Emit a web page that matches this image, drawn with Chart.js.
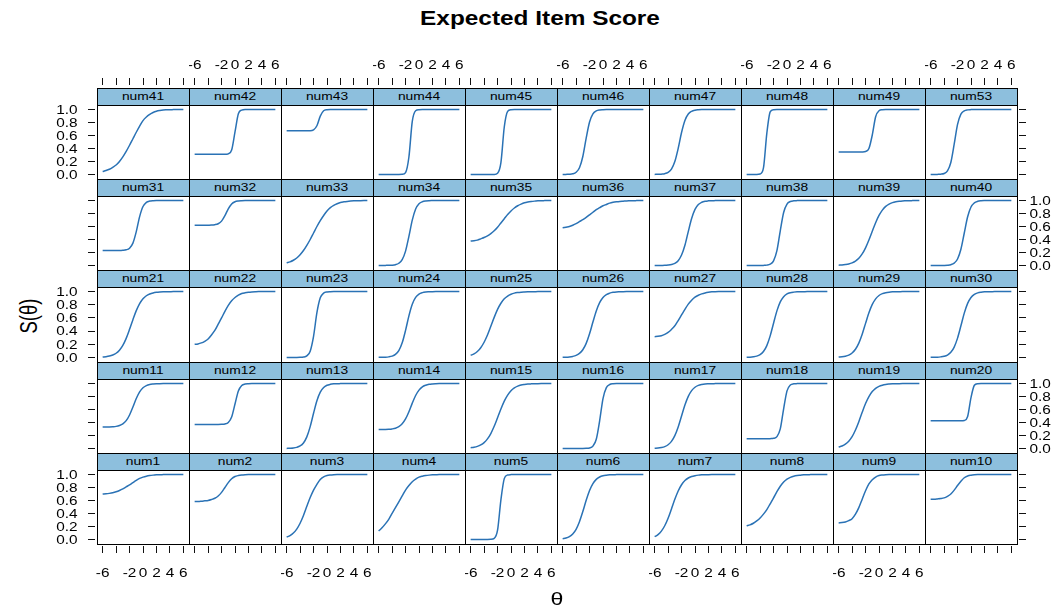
<!DOCTYPE html>
<html>
<head>
<meta charset="utf-8">
<title>Expected Item Score</title>
<script src="https://cdn.jsdelivr.net/npm/chart.js@4.4.1/dist/chart.umd.min.js"></script>
<style>
  html, body { margin: 0; padding: 0; background: #fff; }
  #page { position: relative; width: 1062px; height: 612px; overflow: hidden; background: #fff;
          font-family: "Liberation Sans", Arial, sans-serif; }
  #page canvas { position: absolute; }
  .strip { position: absolute; box-sizing: border-box; background: #8dbfdd; border: 1px solid #000; }
  .frame { position: absolute; box-sizing: border-box; border: 1px solid #000; pointer-events: none; }
  .txt { position: absolute; white-space: nowrap; line-height: 1; color: #000; }
</style>
</head>
<body>
<div id="page"></div>
<script>
// ---- ability grid and expected item scores ----
const theta = [-6,-5.5,-5,-4.5,-4,-3.5,-3,-2.5,-2,-1.5,-1,-0.5,0,0.5,1,1.5,2,2.5,3,3.5,4,4.5,5,5.5,6];

const num1  = [0.70,0.703,0.71,0.72,0.735,0.755,0.78,0.81,0.84,0.875,0.91,0.94,0.96,0.975,0.985,0.991,0.995,0.998,0.999,1,1,1,1,1,1];
const num2  = [0.585,0.586,0.59,0.595,0.60,0.615,0.635,0.67,0.725,0.80,0.875,0.935,0.97,0.985,0.993,0.997,0.999,1,1,1,1,1,1,1,1];
const num3  = [0.035,0.06,0.10,0.16,0.25,0.37,0.51,0.645,0.76,0.85,0.925,0.965,0.985,0.993,0.997,0.999,1,1,1,1,1,1,1,1,1];
const num4  = [0.13,0.18,0.24,0.31,0.40,0.49,0.58,0.67,0.76,0.83,0.89,0.93,0.96,0.975,0.985,0.991,0.995,0.997,0.999,1,1,1,1,1,1];
const num5  = [0,0,0,0,0,0.001,0.002,0.017,0.142,0.611,0.937,0.993,0.999,1,1,1,1,1,1,1,1,1,1,1,1];
const num6  = [0.011,0.022,0.044,0.085,0.157,0.273,0.43,0.603,0.754,0.861,0.926,0.962,0.981,0.99,0.995,0.998,0.999,1,1,1,1,1,1,1,1];
const num7  = [0.042,0.074,0.128,0.211,0.327,0.47,0.618,0.746,0.843,0.907,0.947,0.97,0.983,0.991,0.995,0.997,0.998,0.999,1,1,1,1,1,1,1];
const num8  = [0.21,0.225,0.25,0.285,0.33,0.39,0.46,0.55,0.64,0.735,0.82,0.885,0.93,0.957,0.975,0.985,0.99,0.995,0.998,0.999,1,1,1,1,1];
const num9  = [0.255,0.26,0.27,0.29,0.32,0.39,0.49,0.62,0.75,0.855,0.92,0.962,0.985,0.993,0.997,0.999,1,1,1,1,1,1,1,1,1];
const num10 = [0.62,0.621,0.625,0.63,0.64,0.665,0.70,0.76,0.83,0.895,0.95,0.978,0.99,0.996,0.999,1,1,1,1,1,1,1,1,1,1];

const num11 = [0.33,0.331,0.332,0.335,0.34,0.353,0.378,0.428,0.516,0.638,0.769,0.871,0.936,0.969,0.986,0.993,0.997,0.998,0.999,1,1,1,1,1,1];
const num12 = [0.37,0.37,0.37,0.37,0.37,0.37,0.37,0.37,0.372,0.377,0.40,0.485,0.685,0.885,0.97,0.993,0.998,1,1,1,1,1,1,1,1];
const num13 = [0.001,0.003,0.007,0.017,0.038,0.085,0.178,0.336,0.542,0.735,0.867,0.938,0.973,0.988,0.995,0.998,0.999,1,1,1,1,1,1,1,1];
const num14 = [0.291,0.291,0.292,0.295,0.301,0.312,0.335,0.379,0.454,0.566,0.698,0.816,0.899,0.949,0.974,0.988,0.994,0.997,0.999,1,1,1,1,1,1];
const num15 = [0.011,0.019,0.032,0.054,0.09,0.147,0.23,0.341,0.473,0.608,0.729,0.823,0.89,0.933,0.96,0.977,0.986,0.992,0.995,0.997,0.998,0.999,1,1,1];
const num16 = [0,0,0,0,0,0,0,0.002,0.008,0.036,0.142,0.426,0.769,0.937,0.985,0.997,1,1,1,1,1,1,1,1,1];
const num17 = [0.004,0.007,0.015,0.029,0.057,0.109,0.198,0.332,0.5,0.668,0.802,0.891,0.943,0.971,0.985,0.993,0.996,0.998,0.999,1,1,1,1,1,1];
const num18 = [0.15,0.15,0.15,0.15,0.15,0.15,0.15,0.151,0.156,0.182,0.301,0.611,0.887,0.977,0.996,0.999,1,1,1,1,1,1,1,1,1];
const num19 = [0.022,0.038,0.066,0.112,0.182,0.285,0.413,0.557,0.692,0.799,0.876,0.926,0.957,0.975,0.986,0.992,0.996,0.997,0.998,0.999,1,1,1,1,1];
const num20 = [0.425,0.425,0.425,0.425,0.425,0.425,0.425,0.425,0.425,0.425,0.431,0.493,0.783,0.973,0.998,1,1,1,1,1,1,1,1,1,1];

const num21 = [0.006,0.011,0.02,0.036,0.063,0.109,0.182,0.289,0.426,0.574,0.711,0.818,0.891,0.937,0.964,0.98,0.989,0.994,0.997,0.998,0.999,1,1,1,1];
const num22 = [0.20,0.205,0.22,0.245,0.28,0.34,0.41,0.505,0.60,0.70,0.79,0.86,0.91,0.945,0.97,0.982,0.99,0.995,0.998,1,1,1,1,1,1];
const num23 = [0,0,0,0,0.001,0.005,0.023,0.095,0.321,0.679,0.905,0.977,0.995,0.999,1,1,1,1,1,1,1,1,1,1,1];
const num24 = [0.001,0.001,0.003,0.008,0.019,0.045,0.103,0.221,0.411,0.632,0.808,0.912,0.962,0.984,0.994,0.997,0.999,1,1,1,1,1,1,1,1];
const num25 = [0.032,0.054,0.09,0.147,0.23,0.341,0.473,0.608,0.729,0.823,0.89,0.933,0.96,0.977,0.986,0.992,0.995,0.997,0.998,0.999,1,1,1,1,1];
const num26 = [0.002,0.003,0.007,0.015,0.03,0.06,0.116,0.213,0.359,0.537,0.705,0.832,0.911,0.955,0.977,0.989,0.995,0.997,0.999,1,1,1,1,1,1];
const num27 = [0.315,0.32,0.33,0.35,0.38,0.425,0.48,0.56,0.645,0.73,0.81,0.87,0.915,0.945,0.965,0.98,0.99,0.996,0.999,1,1,1,1,1,1];
const num28 = [0.002,0.004,0.009,0.019,0.042,0.089,0.179,0.327,0.52,0.707,0.843,0.923,0.964,0.983,0.992,0.997,0.998,0.999,1,1,1,1,1,1,1];
const num29 = [0.005,0.009,0.018,0.035,0.067,0.124,0.217,0.352,0.517,0.677,0.805,0.89,0.941,0.969,0.984,0.992,0.996,0.998,0.999,1,1,1,1,1,1];
const num30 = [0.001,0.002,0.003,0.008,0.017,0.036,0.077,0.157,0.293,0.48,0.673,0.821,0.911,0.958,0.981,0.991,0.996,0.998,0.999,1,1,1,1,1,1];

const num31 = [0.23,0.23,0.23,0.23,0.23,0.23,0.233,0.241,0.266,0.344,0.521,0.753,0.908,0.971,0.992,0.998,1,1,1,1,1,1,1,1,1];
const num32 = [0.62,0.62,0.62,0.62,0.621,0.622,0.628,0.643,0.683,0.767,0.873,0.948,0.982,0.994,0.998,1,1,1,1,1,1,1,1,1,1];
const num33 = [0.04,0.055,0.08,0.115,0.165,0.23,0.31,0.40,0.50,0.60,0.69,0.77,0.84,0.89,0.925,0.95,0.97,0.98,0.987,0.992,0.995,0.997,0.998,0.999,1];
const num34 = [0,0,0.001,0.002,0.004,0.012,0.034,0.09,0.221,0.448,0.698,0.869,0.95,0.982,0.994,0.998,0.999,1,1,1,1,1,1,1,1];
const num35 = [0.376,0.38,0.39,0.41,0.43,0.455,0.49,0.535,0.59,0.655,0.72,0.785,0.84,0.885,0.92,0.945,0.965,0.977,0.985,0.991,0.995,0.998,0.999,1,1];
const num36 = [0.58,0.59,0.60,0.62,0.645,0.675,0.705,0.74,0.78,0.82,0.86,0.89,0.92,0.94,0.96,0.972,0.98,0.986,0.99,0.994,0.996,0.998,0.999,1,1];
const num37 = [0,0,0.001,0.002,0.006,0.014,0.032,0.073,0.16,0.312,0.522,0.723,0.863,0.938,0.973,0.989,0.995,0.998,0.999,1,1,1,1,1,1];
const num38 = [0,0,0,0,0,0.001,0.005,0.019,0.071,0.228,0.534,0.816,0.945,0.985,0.996,0.999,1,1,1,1,1,1,1,1,1];
const num39 = [0.005,0.008,0.014,0.023,0.04,0.067,0.11,0.177,0.271,0.392,0.527,0.659,0.77,0.853,0.91,0.946,0.968,0.981,0.989,0.994,0.996,0.998,0.999,1,1];
const num40 = [0,0,0,0,0.001,0.004,0.012,0.036,0.10,0.25,0.50,0.75,0.90,0.964,0.988,0.996,0.999,1,1,1,1,1,1,1,1];

const num41 = [0.045,0.06,0.08,0.11,0.145,0.20,0.27,0.355,0.45,0.55,0.65,0.745,0.83,0.885,0.925,0.955,0.975,0.986,0.993,0.996,0.998,0.999,1,1,1];
const num42 = [0.31,0.31,0.31,0.31,0.31,0.31,0.31,0.31,0.31,0.31,0.318,0.376,0.655,0.934,0.992,1,1,1,1,1,1,1,1,1,1];
const num43 = [0.675,0.675,0.675,0.675,0.675,0.675,0.675,0.675,0.688,0.75,0.899,0.981,0.997,1,1,1,1,1,1,1,1,1,1,1,1];
const num44 = [0,0,0,0,0,0,0,0.002,0.029,0.269,0.818,0.982,0.998,1,1,1,1,1,1,1,1,1,1,1,1];
const num45 = [0,0,0,0,0,0,0,0.001,0.018,0.182,0.731,0.971,0.998,1,1,1,1,1,1,1,1,1,1,1,1];
const num46 = [0,0.001,0.003,0.01,0.034,0.103,0.277,0.56,0.808,0.933,0.979,0.994,0.998,1,1,1,1,1,1,1,1,1,1,1,1];
const num47 = [0.001,0.002,0.005,0.012,0.032,0.083,0.198,0.401,0.646,0.832,0.931,0.973,0.99,0.996,0.999,1,1,1,1,1,1,1,1,1,1];
const num48 = [0,0,0,0,0.007,0.10,0.634,0.964,0.998,1,1,1,1,1,1,1,1,1,1,1,1,1,1,1,1];
const num49 = [0.345,0.345,0.345,0.345,0.345,0.345,0.345,0.346,0.353,0.399,0.608,0.89,0.982,0.997,1,1,1,1,1,1,1,1,1,1,1];
const num53 = [0,0,0.001,0.004,0.015,0.055,0.184,0.466,0.771,0.929,0.98,0.995,0.999,1,1,1,1,1,1,1,1,1,1,1,1];

// panel order, top row first (lattice fills from the bottom-left)
const panelRows = [
  ['num41','num42','num43','num44','num45','num46','num47','num48','num49','num53'],
  ['num31','num32','num33','num34','num35','num36','num37','num38','num39','num40'],
  ['num21','num22','num23','num24','num25','num26','num27','num28','num29','num30'],
  ['num11','num12','num13','num14','num15','num16','num17','num18','num19','num20'],
  ['num1','num2','num3','num4','num5','num6','num7','num8','num9','num10']
];
const curves = {num1,num2,num3,num4,num5,num6,num7,num8,num9,num10,
  num11,num12,num13,num14,num15,num16,num17,num18,num19,num20,
  num21,num22,num23,num24,num25,num26,num27,num28,num29,num30,
  num31,num32,num33,num34,num35,num36,num37,num38,num39,num40,
  num41,num42,num43,num44,num45,num46,num47,num48,num49,num53};

// axis ticks and their labels (the -4 label is dropped, as lattice does when labels collide)
const xTickValues = [-6,-4,-2,0,2,4,6];
const xTickLabels = ['-6','','-2','0','2','4','6'];
const yTickValues = [0,0.2,0.4,0.6,0.8,1.0];
const yTickLabels = ['0.0','0.2','0.4','0.6','0.8','1.0'];

// ---- layout ----
const page = document.getElementById('page');
const colLeft0 = 97, colW = 92;
const stripTops = [88,179,270,362,453], stripH = 17, lastBottom = 544;
const xPad = 6.84, yLo = -0.07, yHi = 1.07;
const lineColor = '#2a72b5';
const textStretch = 1.28;
const tickFont = '12px "Liberation Sans", Arial, sans-serif';

function addText(str, x, baseline, size, opts = {}) {
  const el = document.createElement('div');
  el.className = 'txt';
  el.textContent = str;
  el.style.fontSize = size + 'px';
  if (opts.bold) el.style.fontWeight = 'bold';
  const sx = opts.sx || textStretch;
  el.style.left = x + 'px';
  el.style.top = (baseline - 0.8465 * size) + 'px';
  const align = opts.align || 'center';
  if (align === 'center') {
    el.style.transformOrigin = '50% 50%';
    el.style.transform = `translateX(-50%) scaleX(${sx})`;
  } else if (align === 'right') {
    el.style.transformOrigin = '100% 50%';
    el.style.transform = `translateX(-100%) scaleX(${sx})`;
  } else {
    el.style.transformOrigin = '0 50%';
    el.style.transform = `scaleX(${sx})`;
  }
  page.appendChild(el);
  return el;
}

function drawStretched(ctx, str, x, y, align) {
  ctx.save();
  ctx.translate(x, y);
  ctx.scale(textStretch, 1);
  ctx.textAlign = align;
  ctx.textBaseline = 'alphabetic';
  ctx.fillText(str, 0, 0);
  ctx.restore();
}

// draws the alternating lattice tick labels next to the library's tick marks
const latticeLabels = {
  id: 'latticeLabels',
  afterDraw(chart, args, o) {
    const ctx = chart.ctx;
    ctx.save();
    ctx.fillStyle = '#000';
    ctx.font = tickFont;
    if (o.xLabels) {
      const sc = chart.scales.x;
      const base = (o.xLabels === 'top' ? 68.5 : 576.5) - o.top;
      xTickValues.forEach((v, i) => {
        if (xTickLabels[i]) drawStretched(ctx, xTickLabels[i], sc.getPixelForValue(v), base, 'center');
      });
    }
    if (o.yLabels) {
      const sc = chart.scales.y;
      const left = o.yLabels === 'left';
      const x = (left ? 77.5 : 1029.5) - o.left;
      yTickValues.forEach((v, i) => {
        drawStretched(ctx, yTickLabels[i], x, sc.getPixelForValue(v) + 4.3, left ? 'right' : 'left');
      });
    }
    ctx.restore();
  }
};

const tickGrid = { display: true, drawOnChartArea: false, drawTicks: true, tickLength: 7, color: '#111', lineWidth: 1 };

function makePanel(name, r, c) {
  const plotL = colLeft0 + colW * c;
  const plotT = stripTops[r] + stripH;
  const plotB = r < 4 ? stripTops[r + 1] : lastBottom;
  const plotH = plotB - plotT;
  const isTop = r === 0, isBottom = r === 4, isLeft = c === 0, isRight = c === 9;
  // the chart area reaches past the panel box to leave the small gap lattice puts before its ticks
  const ext = { t: isTop ? stripH + 3 : 0, b: isBottom ? 2 : 0, l: isLeft ? 2 : 0, r: isRight ? 2 : 0 };
  const axis = { t: isTop ? 36 : 0, b: isBottom ? 44 : 0, l: isLeft ? 44 : 0, r: isRight ? 44 : 0 };
  const pxX = colW / (2 * xPad), pxY = plotH / (yHi - yLo);
  const cl = plotL - ext.l - axis.l, ct = plotT - ext.t - axis.t;
  const cw = colW + ext.l + ext.r + axis.l + axis.r;
  const ch = plotH + ext.t + ext.b + axis.t + axis.b;

  const cv = document.createElement('canvas');
  cv.width = cw; cv.height = ch;
  cv.style.left = cl + 'px'; cv.style.top = ct + 'px';
  cv.style.width = cw + 'px'; cv.style.height = ch + 'px';
  page.appendChild(cv);

  const values = curves[name];
  new Chart(cv, {
    type: 'line',
    data: {
      datasets: [{
        label: name,
        data: theta.map((t, i) => ({ x: t, y: values[i] })),
        borderColor: lineColor,
        borderWidth: 1.5,
        pointRadius: 0,
        fill: false,
        cubicInterpolationMode: 'monotone'
      }]
    },
    options: {
      responsive: false,
      animation: false,
      devicePixelRatio: 1,
      events: [],
      layout: { padding: 0, autoPadding: false },
      plugins: {
        legend: { display: false },
        title: { display: false },
        tooltip: { enabled: false },
        latticeLabels: {
          left: cl, top: ct,
          xLabels: (isTop && c % 2 === 1) ? 'top' : (isBottom && c % 2 === 0) ? 'bottom' : null,
          yLabels: (isLeft && r % 2 === 0) ? 'left' : (isRight && r % 2 === 1) ? 'right' : null
        }
      },
      scales: {
        x: {
          type: 'linear',
          display: isTop || isBottom,
          position: isTop ? 'top' : 'bottom',
          min: -xPad - ext.l / pxX,
          max: xPad + ext.r / pxX,
          bounds: 'data',
          afterBuildTicks: s => { s.ticks = xTickValues.map(v => ({ value: v })); },
          afterFit: s => { s.height = isTop ? axis.t : axis.b; },
          grid: tickGrid,
          border: { display: false },
          ticks: { display: false }
        },
        y: {
          type: 'linear',
          display: isLeft || isRight,
          position: isLeft ? 'left' : 'right',
          min: yLo - ext.b / pxY,
          max: yHi + ext.t / pxY,
          bounds: 'data',
          afterBuildTicks: s => { s.ticks = yTickValues.map(v => ({ value: v })); },
          afterFit: s => { s.width = isLeft ? axis.l : axis.r; },
          grid: tickGrid,
          border: { display: false },
          ticks: { display: false }
        }
      }
    },
    plugins: [latticeLabels]
  });

  // panel box and its strip
  const frame = document.createElement('div');
  frame.className = 'frame';
  frame.style.left = plotL + 'px'; frame.style.top = plotT + 'px';
  frame.style.width = (colW + 1) + 'px'; frame.style.height = (plotH + 1) + 'px';
  page.appendChild(frame);

  const strip = document.createElement('div');
  strip.className = 'strip';
  strip.style.left = plotL + 'px'; strip.style.top = stripTops[r] + 'px';
  strip.style.width = (colW + 1) + 'px'; strip.style.height = (stripH + 1) + 'px';
  page.appendChild(strip);

  addText(name, plotL + colW / 2, stripTops[r] + 13.2, 11.5, { sx: 1.2 });
}

panelRows.forEach((row, r) => row.forEach((name, c) => makePanel(name, r, c)));

// titles
addText('Expected Item Score', 540, 26, 19.5, { bold: true, sx: 1.25 });
addText('\u03b8', 557, 606, 18.5, { sx: 1.25 });
const yTitle = document.createElement('div');
yTitle.className = 'txt';
yTitle.textContent = 'S(\u03b8)';
yTitle.style.fontSize = '18.5px';
yTitle.style.left = '30px';
yTitle.style.top = '316px';
yTitle.style.transformOrigin = '50% 50%';
yTitle.style.transform = 'translate(-50%,-50%) scaleX(1.25) rotate(-90deg)';
page.appendChild(yTitle);
</script>
</body>
</html>
